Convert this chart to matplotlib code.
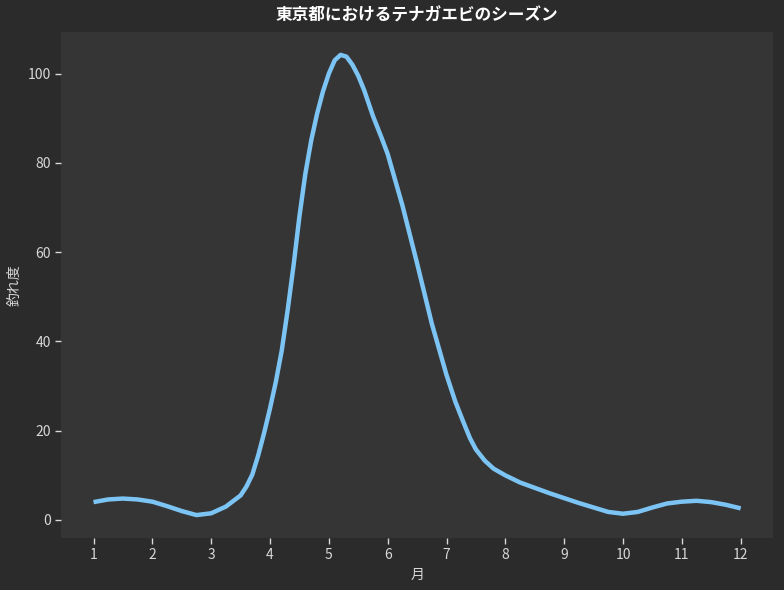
import matplotlib
matplotlib.use("Agg")
from matplotlib import pyplot as plt

plt.rcParams['font.family'] = ['Noto Sans CJK JP', 'DejaVu Sans']

# 月（小数）と釣れ度：図から読み取った値
months = [1.0, 1.25, 1.5, 1.75, 2.0, 2.25, 2.5, 2.75, 3.0, 3.25, 3.5, 3.6, 3.7, 3.8, 3.9,
          4.0, 4.1, 4.2, 4.3, 4.4, 4.5, 4.6, 4.7, 4.8, 4.9,
          5.0, 5.1, 5.2, 5.3, 5.4, 5.5, 5.6, 5.75, 5.9,
          6.0, 6.25, 6.5, 6.75, 7.0, 7.15, 7.3, 7.4, 7.5, 7.65, 7.8,
          8.0, 8.25, 8.5, 8.75, 9.0, 9.25, 9.5, 9.75,
          10.0, 10.25, 10.5, 10.75, 11.0, 11.25, 11.5, 11.75, 12.0]
score = [4.0, 4.6, 4.8, 4.6, 4.1, 3.1, 2.0, 1.1, 1.5, 3.0, 5.5, 7.5, 10.2, 14.5, 19.5,
         25.0, 31.0, 38.0, 47.0, 57.0, 68.0, 77.5, 85.0, 91.0, 96.0,
         100.0, 103.0, 104.2, 103.8, 102.0, 99.5, 96.3, 90.5, 85.5,
         82.0, 70.5, 57.5, 44.0, 32.5, 26.5, 21.5, 18.3, 15.8, 13.3, 11.5,
         10.0, 8.4, 7.2, 6.0, 4.9, 3.8, 2.8, 1.8,
         1.4, 1.8, 2.8, 3.7, 4.1, 4.3, 4.0, 3.4, 2.6]

xticks = list(range(1, 13))
title = "東京都におけるテナガエビのシーズン"

fig = plt.figure(figsize=(7.84, 5.9), dpi=100, facecolor="#2b2b2b")
ax = fig.add_axes([0.078, 0.088, 0.908, 0.858])
ax.set_facecolor("#353535")

ax.plot(months, score, color="#7cc4f4", linewidth=3.2,
        solid_joinstyle="round", solid_capstyle="butt")

ax.set_xticks(xticks)
ax.tick_params(colors="#d8d8d8", labelsize=10, length=4, width=1)
for s in ax.spines.values():
    s.set_visible(False)

ax.set_title(title, color="white", fontsize=12, fontweight="bold", pad=8)
ax.set_xlabel("月", color="#d8d8d8", fontsize=10)
ax.set_ylabel("釣れ度", color="#d8d8d8", fontsize=10)

fig.savefig("out.png", facecolor=fig.get_facecolor())
